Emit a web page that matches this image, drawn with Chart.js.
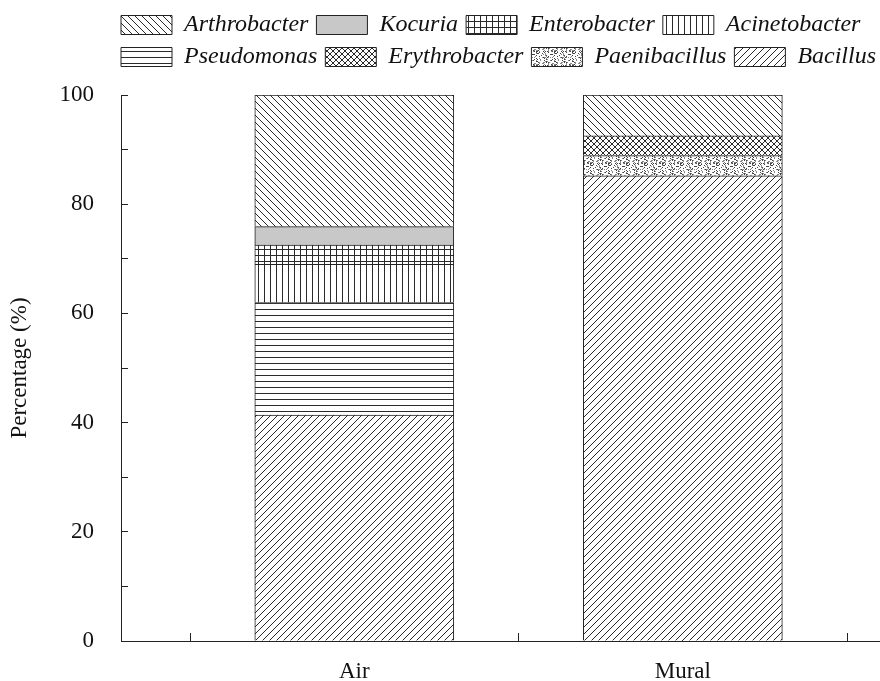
<!DOCTYPE html>
<html>
<head>
<meta charset="utf-8">
<script src="https://cdn.jsdelivr.net/npm/chart.js@4"></script>
<style>
  html, body { margin: 0; padding: 0; background: #fff; }
  #wrap { width: 880px; height: 681px; }
</style>
</head>
<body>
<div id="wrap"><canvas id="myChart" width="880" height="681"></canvas></div>
<script>
// DATOS (orden de apilado: de abajo hacia arriba)
const categories = ['Air', 'Mural'];
const bacillus = [41.4, 85.2];
const paenibacillus = [null, 3.7];
const erythrobacter = [null, 3.6];
const pseudomonas = [20.6, null];
const acinetobacter = [7.0, null];
const enterobacter = [3.5, null];
const kocuria = [3.4, null];
const arthrobacter = [24.1, 7.5];
const yTickLabels = [0, 20, 40, 60, 80, 100];
const xTickValues = [-0.5, 0, 0.5, 1, 1.5];

const LINE = '#2a2a2a';

// TRAMAS
function tile(w, h, draw) {
    const c = document.createElement('canvas');
    c.width = w; c.height = h;
    const g = c.getContext('2d');
    g.fillStyle = '#fff';
    g.fillRect(0, 0, w, h);
    g.strokeStyle = LINE;
    g.lineWidth = 1;
    draw(g, w, h);
    return document.createElement('canvas').getContext('2d').createPattern(c, 'repeat');
}

function seg(g, x1, y1, x2, y2) {
    g.beginPath(); g.moveTo(x1, y1); g.lineTo(x2, y2); g.stroke();
}

const pForward = tile(7, 7, (g, s) => {       // ////
    seg(g, 0, s, s, 0); seg(g, -1, 1, 1, -1); seg(g, s - 1, s + 1, s + 1, s - 1);
});
const pBack = tile(7, 7, (g, s) => {          // \\\\
    seg(g, 0, 0, s, s); seg(g, -1, s - 1, 1, s + 1); seg(g, s - 1, -1, s + 1, 1);
});
const pVert = tile(6, 6, (g) => { seg(g, 0.5, 0, 0.5, 6); });
const pHoriz = tile(6, 6, (g) => { seg(g, 0, 3.5, 6, 3.5); });
const pGrid = tile(6, 6, (g) => { seg(g, 0.5, 0, 0.5, 6); seg(g, 0, 3.5, 6, 3.5); });
const pCross = tile(6, 6, (g, s) => {
    seg(g, 0, s, s, 0); seg(g, -1, 1, 1, -1); seg(g, s - 1, s + 1, s + 1, s - 1);
    seg(g, 0, 0, s, s); seg(g, -1, s - 1, 1, s + 1); seg(g, s - 1, -1, s + 1, 1);
});
const pDots = tile(18, 14, (g, w, h) => {
    let seed = 12345;
    const next = () => { seed = (seed * 1103515245 + 12345) % 2147483648; return seed / 2147483648; };
    for (let i = 0; i < 95; i++) {
        const x = Math.floor(next() * w), y = Math.floor(next() * h);
        g.fillStyle = next() < 0.5 ? '#444' : '#888';
        g.fillRect(x, y, 1, 1);
    }
});

function ds(label, values, fill) {
    return {
        label: label,
        data: values.map((v, i) => ({ x: i, y: v })),
        backgroundColor: fill,
        borderColor: '#222',
        borderWidth: 1,
        barThickness: 199
    };
}

// AJUSTES DE LEYENDA
const legendTweak = {
    id: 'legendTweak',
    beforeInit(chart) {
        const lg = chart.legend;
        const fit = lg.fit;
        lg.fit = function () { fit.call(this); this.height = 90; };
    },
    afterLayout(chart) {
        chart.legend.left = 113;
        chart.legend.right = 900;
    }
};

const serif = "'Liberation Serif', 'Times New Roman', serif";
const ctx = document.getElementById('myChart');

new Chart(ctx, {
    type: 'bar',
    data: {
        datasets: [
            ds('Bacillus', bacillus, pForward),
            ds('Paenibacillus', paenibacillus, pDots),
            ds('Erythrobacter', erythrobacter, pCross),
            ds('Pseudomonas', pseudomonas, pHoriz),
            ds('Acinetobacter', acinetobacter, pVert),
            ds('Enterobacter', enterobacter, pGrid),
            ds('Kocuria', kocuria, '#c8c8c8'),
            ds('Arthrobacter', arthrobacter, pBack)
        ]
    },
    options: {
        responsive: false,
        animation: false,
        layout: { padding: { top: 5, right: 0, left: 0, bottom: 0 } },
        plugins: {
            tooltip: { enabled: false },
            legend: {
                position: 'top',
                align: 'start',
                reverse: true,
                labels: {
                    boxWidth: 51,
                    boxHeight: 19,
                    padding: 8,
                    color: '#111',
                    font: { family: serif, size: 24, style: 'italic' }
                }
            }
        },
        scales: {
            x: {
                type: 'linear',
                stacked: true,
                offset: false,
                min: -0.71,
                max: 1.6,
                afterBuildTicks: (scale) => { scale.ticks = xTickValues.map(v => ({ value: v })); },
                afterFit: (scale) => { scale.height = 40; },
                border: { display: true, color: '#222', width: 1 },
                grid: { offset: false, drawOnChartArea: false, drawTicks: true, tickLength: -8, color: '#222' },
                ticks: {
                    autoSkip: false,
                    maxRotation: 0,
                    padding: 25,
                    color: '#111',
                    font: { family: serif, size: 23 },
                    callback: (v) => Number.isInteger(v) && categories[v] ? categories[v] : ''
                }
            },
            y: {
                stacked: true,
                min: 0,
                max: 100,
                afterFit: (scale) => {
                    scale.width = 121;
                    scale.paddingTop = 14;
                    scale.paddingBottom = 14;
                },
                border: { display: true, color: '#222', width: 1 },
                grid: { drawOnChartArea: false, drawTicks: true, tickLength: -7, color: '#222' },
                title: {
                    display: true,
                    text: 'Percentage (%)',
                    color: '#111',
                    padding: { top: 6, bottom: 4 },
                    font: { family: serif, size: 23 }
                },
                ticks: {
                    stepSize: 10,
                    padding: 34,
                    color: '#111',
                    font: { family: serif, size: 23 },
                    callback: (v) => yTickLabels.includes(v) ? v : ''
                }
            }
        }
    },
    plugins: [legendTweak]
});
</script>
</body>
</html>
